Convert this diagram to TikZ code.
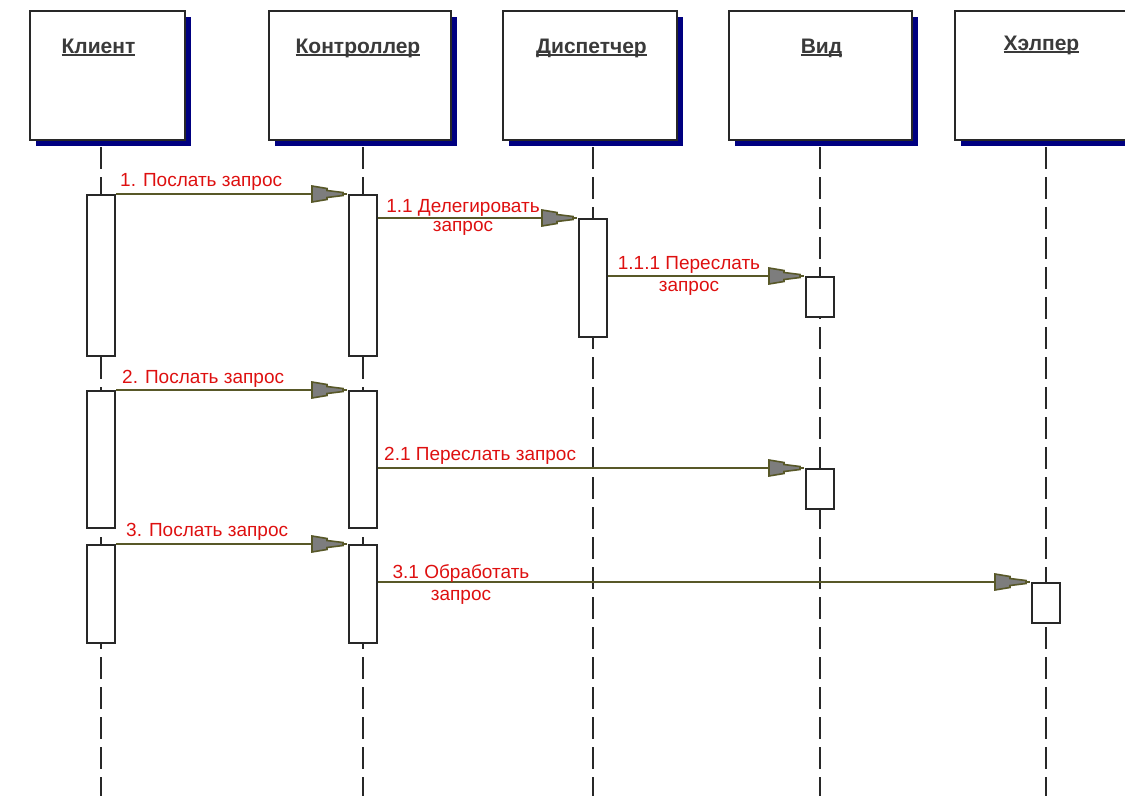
\documentclass[tikz,border=0pt]{standalone}
\usepackage{fontspec}
\setmainfont{Liberation Sans}
\usetikzlibrary{arrows.meta,shadows,backgrounds}

\definecolor{msgline}{RGB}{88,88,40}
\definecolor{headfill}{RGB}{125,125,125}
\definecolor{msgred}{RGB}{222,16,16}
\definecolor{ink}{RGB}{40,40,40}
\definecolor{titlegray}{RGB}{58,58,58}
\definecolor{shadowblue}{RGB}{0,0,128}

% stepped message head: wide block, narrow neck, line running on to the tip
\pgfdeclarearrow{
  name = MsgHead,
  parameters = {},
  setup code = {
    \pgfarrowssettipend{0pt}
    \pgfarrowssetlineend{-1pt}
    \pgfarrowssetbackend{-36pt}
    \pgfarrowsupperhullpoint{-36pt}{8pt}
    \pgfarrowsupperhullpoint{0pt}{1.5pt}
  },
  drawing code = {
    \pgfpathmoveto{\pgfqpoint{-36pt}{8pt}}
    \pgfpathlineto{\pgfqpoint{-21pt}{5.5pt}}
    \pgfpathlineto{\pgfqpoint{-21pt}{3.5pt}}
    \pgfpathlineto{\pgfqpoint{-5pt}{1.5pt}}
    \pgfpathlineto{\pgfqpoint{-5pt}{-1.5pt}}
    \pgfpathlineto{\pgfqpoint{-21pt}{-3.5pt}}
    \pgfpathlineto{\pgfqpoint{-21pt}{-5.5pt}}
    \pgfpathlineto{\pgfqpoint{-36pt}{-8pt}}
    \pgfpathclose
    \pgfusepathqfillstroke
  }
}

% underlined object name, rule just below the baseline
\newsavebox\hdrbox
\newcommand\hdrline[1]{\sbox\hdrbox{#1}\rlap{\rule[-2.5pt]{\wd\hdrbox}{1.6pt}}\usebox\hdrbox}

\tikzset{
  head/.style={draw=ink, line width=2pt, fill=white, minimum height=129pt, inner sep=0pt,
    drop shadow={shadow xshift=6pt, shadow yshift=-6pt, fill=shadowblue, opacity=1}},
  title/.style={font=\fontsize{21}{24}\selectfont\bfseries, text=titlegray, inner sep=0pt, anchor=base},
  bar/.style={draw=ink, line width=2pt, fill=white, minimum width=28pt, inner sep=0pt},
  lifeline/.style={draw=ink, line width=2pt, dash pattern=on 22pt off 8pt, dash phase=24pt},
  msg/.style={draw=msgline, line width=1.6pt, -{MsgHead[fill=headfill]}},
  lbl/.style={text=msgred, font=\fontsize{19}{21}\selectfont, inner sep=0pt},
}

\begin{document}
\begin{tikzpicture}[x=1pt,y=-1pt]
\useasboundingbox (0,0) rectangle (1125,796);
\clip (0,0) rectangle (1125,796);

% object heads
\node[head, minimum width=155pt] (hClient) at (107.5,75.5) {};
\node[head, minimum width=182pt] (hCtrl)   at (360,75.5) {};
\node[head, minimum width=174pt] (hDisp)   at (590,75.5) {};
\node[head, minimum width=183pt] (hView)   at (820.5,75.5) {};
\node[head, minimum width=185pt] (hHelp)   at (1047.5,75.5) {};

\node[title] (tClient) at (98.5,53)  {\hdrline{Клиент}};
\node[title] (tCtrl)   at (358,53)   {\hdrline{Контроллер}};
\node[title] (tDisp)   at (591.5,53) {\hdrline{Диспетчер}};
\node[title] (tView)   at (821.5,53) {\hdrline{Вид}};
\node[title] (tHelp)   at (1041.5,50) {\hdrline{Хэлпер}};

% activation bars
\node[bar, minimum height=161pt] (c1) at (101,275.5) {};
\node[bar, minimum height=161pt] (k1) at (363,275.5) {};
\node[bar, minimum height=118pt] (d1) at (593,278) {};
\node[bar, minimum height=40pt]  (v1) at (820,297) {};
\node[bar, minimum height=137pt] (c2) at (101,459.5) {};
\node[bar, minimum height=137pt] (k2) at (363,459.5) {};
\node[bar, minimum height=40pt]  (v2) at (820,489) {};
\node[bar, minimum height=98pt]  (c3) at (101,594) {};
\node[bar, minimum height=98pt]  (k3) at (363,594) {};
\node[bar, minimum height=40pt]  (h1) at (1046,603) {};

% lifelines, behind everything else
\coordinate (eClient) at (101,796);
\coordinate (eCtrl)   at (363,796);
\coordinate (eDisp)   at (593,796);
\coordinate (eView)   at (820,796);
\coordinate (eHelp)   at (1046,796);
\begin{scope}[on background layer]
  \draw[lifeline] (c1 |- hClient.south) -- (eClient);
  \draw[lifeline] (k1 |- hCtrl.south)   -- (eCtrl);
  \draw[lifeline] (d1 |- hDisp.south)   -- (eDisp);
  \draw[lifeline] (v1 |- hView.south)   -- (eView);
  \draw[lifeline] (h1 |- hHelp.south)   -- (eHelp);
\end{scope}

% messages
\draw[msg] (c1.north east) -- (k1.north west);
\draw[msg] (k1.east |- d1.north) -- (d1.north west);
\draw[msg] (d1.east |- v1.north) -- (v1.north west);
\draw[msg] (c2.north east) -- (k2.north west);
\draw[msg] (k2.east |- v2.north) -- (v2.north west);
\draw[msg] (c3.north east) -- (k3.north west);
\draw[msg] (k3.east |- h1.north) -- (h1.north west);

% message labels
\node[lbl, anchor=base west] (l1) at (120,186) {1. Послать запрос};
\node[lbl, anchor=north, align=center, font=\fontsize{19}{19}\selectfont] (l11) at (463,199) {1.1 Делегировать\\запрос};
\node[lbl, anchor=north, align=center, font=\fontsize{19}{22}\selectfont] (l111) at (689,256) {1.1.1 Переслать\\запрос};
\node[lbl, anchor=base west] (l2) at (122,383) {2. Послать запрос};
\node[lbl, anchor=base west] (l21) at (384,460) {2.1 Переслать запрос};
\node[lbl, anchor=base west] (l3) at (126,536) {3. Послать запрос};
\node[lbl, anchor=north, align=center, font=\fontsize{19}{22}\selectfont] (l31) at (461,564) {3.1 Обработать\\запрос};
\end{tikzpicture}
\end{document}
